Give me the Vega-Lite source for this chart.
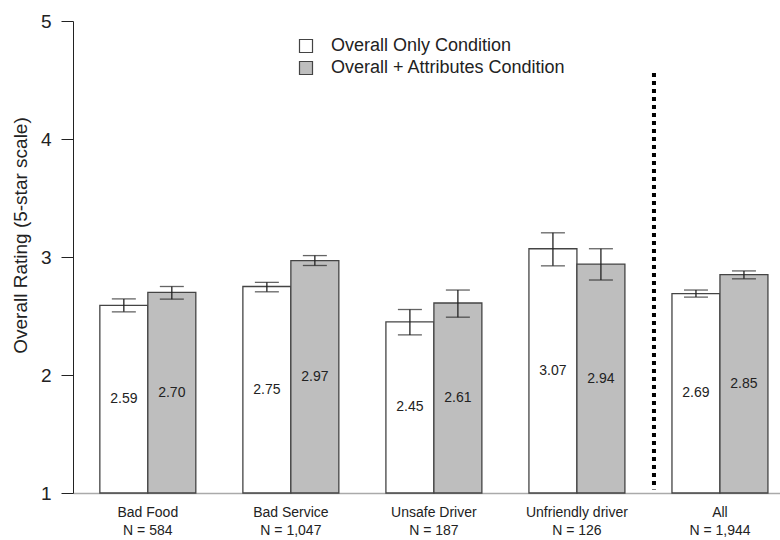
{
  "$schema": "https://vega.github.io/schema/vega-lite/v6.json",
  "width": 707,
  "height": 472,
  "autosize": {"type": "none"},
  "padding": {"left": 73, "top": 21, "right": 0, "bottom": 47},
  "background": "white",
  "config": {
    "font": "Liberation Sans",
    "view": {"stroke": null}
  },
  "data": {
    "values": [
      {"group": "Bad Food|N = 584", "cond": "Overall Only Condition", "rating": 2.59, "lo": 2.535, "hi": 2.645},
      {"group": "Bad Food|N = 584", "cond": "Overall + Attributes Condition", "rating": 2.70, "lo": 2.643, "hi": 2.750},
      {"group": "Bad Service|N = 1,047", "cond": "Overall Only Condition", "rating": 2.75, "lo": 2.705, "hi": 2.785},
      {"group": "Bad Service|N = 1,047", "cond": "Overall + Attributes Condition", "rating": 2.97, "lo": 2.928, "hi": 3.012},
      {"group": "Unsafe Driver|N = 187", "cond": "Overall Only Condition", "rating": 2.45, "lo": 2.340, "hi": 2.555},
      {"group": "Unsafe Driver|N = 187", "cond": "Overall + Attributes Condition", "rating": 2.61, "lo": 2.490, "hi": 2.720},
      {"group": "Unfriendly driver|N = 126", "cond": "Overall Only Condition", "rating": 3.07, "lo": 2.925, "hi": 3.205},
      {"group": "Unfriendly driver|N = 126", "cond": "Overall + Attributes Condition", "rating": 2.94, "lo": 2.805, "hi": 3.070},
      {"group": "All|N = 1,944", "cond": "Overall Only Condition", "rating": 2.69, "lo": 2.660, "hi": 2.720},
      {"group": "All|N = 1,944", "cond": "Overall + Attributes Condition", "rating": 2.85, "lo": 2.815, "hi": 2.882}
    ]
  },
  "encoding": {
    "x": {
      "field": "group",
      "type": "nominal",
      "sort": null,
      "scale": {"paddingInner": 0.329, "paddingOuter": 0.136, "align": 0.69},
      "axis": {
        "title": null,
        "labelAngle": 0,
        "labelExpr": "split(datum.value, '|')",
        "labelFontSize": 14,
        "labelColor": "#222",
        "labelLineHeight": 18,
        "labelPadding": 12,
        "ticks": false,
        "domainColor": "#aaaaaa",
        "domainWidth": 1.5
      }
    },
    "xOffset": {
      "field": "cond",
      "type": "nominal",
      "sort": ["Overall Only Condition", "Overall + Attributes Condition"],
      "scale": {"paddingInner": 0, "paddingOuter": 0}
    }
  },
  "layer": [
    {
      "mark": {"type": "bar", "stroke": "#444444", "strokeWidth": 1.3},
      "encoding": {
        "y": {
          "field": "rating",
          "type": "quantitative",
          "scale": {"domain": [1, 5], "zero": false, "nice": false},
          "axis": {
            "values": [1, 2, 3, 4, 5],
            "format": "d",
            "grid": false,
            "title": "Overall Rating (5-star scale)",
            "titleFontSize": 19,
            "titleFontWeight": "normal",
            "titleColor": "#222",
            "titlePadding": 10,
            "titleY": 214,
            "labelFontSize": 19,
            "labelColor": "#222",
            "labelPadding": 10,
            "tickSize": 12,
            "tickColor": "#222",
            "domainColor": "#222",
            "labelFlush": false
          }
        },
        "y2": {"datum": 1},
        "fill": {
          "field": "cond",
          "type": "nominal",
          "sort": ["Overall Only Condition", "Overall + Attributes Condition"],
          "scale": {"range": ["#ffffff", "#bebebe"]},
          "legend": {
            "title": null,
            "orient": "none",
            "legendX": 224,
            "legendY": 16,
            "symbolType": "square",
            "symbolSize": 169,
            "symbolStrokeColor": "#444444",
            "symbolStrokeWidth": 1.2,
            "labelFontSize": 18,
            "labelColor": "#222",
            "labelOffset": 16,
            "labelLimit": 0,
            "rowPadding": 4
          }
        }
      }
    },
    {
      "mark": {"type": "rule", "color": "#222", "strokeWidth": 1.3},
      "encoding": {
        "y": {"field": "lo", "type": "quantitative"},
        "y2": {"field": "hi"}
      }
    },
    {
      "mark": {"type": "tick", "color": "#222", "thickness": 1.3, "size": 24},
      "encoding": {
        "y": {"field": "lo", "type": "quantitative"}
      }
    },
    {
      "mark": {"type": "tick", "color": "#222", "thickness": 1.3, "size": 24},
      "encoding": {
        "y": {"field": "hi", "type": "quantitative"}
      }
    },
    {
      "transform": [{"calculate": "(datum.rating + 1) / 2", "as": "mid"}],
      "mark": {"type": "text", "fontSize": 14, "color": "#222", "baseline": "middle"},
      "encoding": {
        "y": {"field": "mid", "type": "quantitative"},
        "text": {"field": "rating", "type": "quantitative", "format": ".2f"}
      }
    },
    {
      "data": {"values": [{"top": 4.56, "bottom": 1.03}]},
      "mark": {"type": "rule", "color": "#000000", "strokeWidth": 4, "strokeDash": [4, 4], "strokeCap": "butt"},
      "encoding": {
        "x": {"datum": "All|N = 1,944", "bandPosition": -0.1875},
        "xOffset": null,
        "y": {"field": "top", "type": "quantitative"},
        "y2": {"field": "bottom"}
      }
    }
  ]
}
